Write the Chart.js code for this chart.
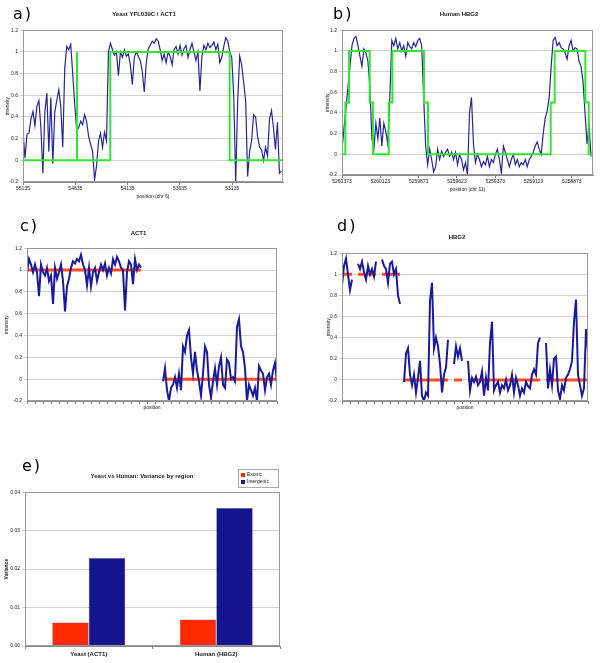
<!DOCTYPE html>
<html>
<head>
<meta charset="utf-8">
<script src="https://cdn.jsdelivr.net/npm/chart.js@4.4.1/dist/chart.umd.min.js"></script>
<style>
  body { margin: 0; background: #fff; }
  #wrap { position: relative; width: 600px; height: 663px; }
  canvas { position: absolute; }
  .tag { position: absolute; font: 16px/16px "DejaVu Sans", sans-serif; letter-spacing: 2px; color: #000; }
</style>
</head>
<body>
<div id="wrap">
  <canvas id="chartA" width="300" height="205" style="left:0;top:0"></canvas>
  <canvas id="chartB" width="300" height="205" style="left:300px;top:0"></canvas>
  <canvas id="chartC" width="300" height="200" style="left:0;top:215px"></canvas>
  <canvas id="chartD" width="300" height="200" style="left:300px;top:215px"></canvas>
  <canvas id="chartE" width="300" height="208" style="left:0;top:455px"></canvas>
  <div class="tag" style="left:13px;top:6px">a)</div>
  <div class="tag" style="left:333px;top:6px">b)</div>
  <div class="tag" style="left:20px;top:218px">c)</div>
  <div class="tag" style="left:337px;top:218px">d)</div>
  <div class="tag" style="left:22px;top:458px">e)</div>
</div>
<script>
// a) yeast tiling signal, probes read every ~19 bp going down from 55135
const aStart = 55135;
const aStep = -19;
const aTicks = [55135, 54635, 54135, 53635, 53135];
const aIntensity = [
  0.26, 0.02, 0.24, 0.25, 0.38, 0.45, 0.32, 0.50, 0.55, 0.30,
  -0.12, 0.45, 0.62, 0.08, 0.58, -0.03, 0.45, 0.55, 0.65, 0.50,
  0.12, 0.85, 1.05, 1.02, 1.07, 0.80, 0.52, 0.28, 0.30, 0.36,
  0.33, 0.42, 0.36, 0.22, 0.15, 0.08, -0.18, -0.05, 0.18, 0.25,
  0.12, 0.26, 0.18, 1.00, 1.08, 1.02, 0.97, 1.00, 0.78, 1.00,
  0.95, 1.02, 0.96, 0.98, 0.88, 0.70, 0.95, 1.00, 0.96, 0.92,
  0.82, 0.63, 0.90, 1.03, 1.06, 1.10, 1.08, 1.12, 1.10, 1.02,
  0.92, 0.98, 0.90, 1.00, 0.96, 0.88, 1.02, 1.05, 0.98, 1.06,
  0.97, 1.03, 1.06, 0.95, 1.02, 1.08, 1.00, 0.92, 1.00, 0.64,
  0.96, 1.06, 1.02, 1.08, 1.04, 1.06, 1.09, 1.02, 1.07, 0.90,
  0.95, 1.05, 1.13, 1.10, 1.00, 0.95, 0.60, -0.20, 0.55, 0.96,
  0.88, 0.72, 0.55, -0.15, 0.08, 0.18, 0.42, 0.40, 0.22, 0.12,
  0.10, 0.00, 0.12, 0.04, 0.38, 0.46, 0.30, 0.10, 0.35, -0.12,
  -0.10
];
const aModelX = [55135, 54619, 54619, 54619, 54301, 54301, 53160, 53160, 52650];
const aModelY = [0, 0, 1, 0, 0, 1, 1, 0, 0];

// b) human HBG2, probes every ~13 bp going down from 5260373
const bStart = 5260373;
const bStep = -13;
const bTicks = [5260373, 5260123, 5259873, 5259623, 5259373, 5259123, 5258873];
const bIntensity = [
  0.05, 0.25, 0.45, 0.65, 0.85, 1.05, 1.12, 1.14, 1.05, 0.95,
  0.85, 1.02, 0.98, 0.90, 0.65, 0.15, 0.05, 0.30, 0.15, 0.35,
  0.08, 0.30, 0.22, 0.10, 0.55, 1.10, 1.05, 1.12, 1.02, 1.08,
  1.00, 1.05, 0.95, 1.08, 1.04, 1.02, 1.08, 1.04, 1.10, 1.12,
  1.05, 0.55, 0.08, -0.10, 0.05, -0.05, -0.17, -0.12, 0.05, -0.05,
  0.03, -0.02, 0.02, 0.05, -0.02, 0.02, -0.05, 0.02, -0.10, 0.00,
  -0.05, -0.15, -0.08, -0.20, 0.40, 0.55, 0.10, -0.08, 0.00, -0.05,
  -0.12, -0.07, -0.10, -0.02, -0.12, -0.05, -0.08, 0.00, 0.05, -0.05,
  -0.18, 0.08, 0.02, -0.05, -0.12, -0.05, 0.00, -0.10, -0.05, -0.12,
  -0.08, -0.10, -0.05, -0.12, -0.05, -0.02, 0.02, 0.08, 0.12, 0.05,
  0.00, 0.20, 0.35, 0.42, 0.55, 0.85, 1.10, 1.13, 1.05, 1.08,
  1.03, 1.02, 0.98, 0.92, 1.05, 1.10, 1.00, 1.03, 1.02, 0.90,
  0.85, 0.70, 0.40, 0.10, 0.30, -0.02
];
const bModelX = [5260373, 5260351, 5260351, 5260327, 5260327, 5260192, 5260192, 5260171, 5260171,
  5260068, 5260068, 5260044, 5260044, 5259838, 5259838, 5259812, 5259812, 5259011, 5259011,
  5258985, 5258985, 5258785, 5258785, 5258763, 5258763, 5258735];
const bModelY = [0, 0, 0.5, 0.5, 1, 1, 0.5, 0.5, 0, 0, 0.5, 0.5, 1, 1, 0.5, 0.5, 0, 0, 0.5, 0.5, 1, 1, 0.5, 0.5, 0, 0];

// c) ACT1 exon then intergenic, by probe index
const cIntensity = [
  0.98, 1.10, 1.05, 0.98, 1.05, 0.98, 0.76, 1.05, 0.98, 0.95,
  1.02, 0.90, 0.95, 0.69, 1.02, 0.92, 0.98, 1.05, 0.90, 0.62,
  0.85, 0.92, 1.02, 1.08, 1.06, 1.10, 1.08, 1.14, 1.05, 1.00,
  0.86, 1.02, 0.85, 0.98, 1.02, 0.90, 0.98, 1.05, 1.00, 1.06,
  0.95, 1.02, 0.97, 1.10, 1.05, 1.12, 1.08, 1.02, 1.00, 0.63,
  0.98, 1.08, 1.05, 0.87, 1.10, 1.00, 1.05, 1.02,
  null, null, null, null, null, null, null, null, null, null,
  -0.02, 0.10, -0.10, -0.20, -0.08, -0.05, 0.02, -0.08, 0.05, -0.10,
  0.30, 0.25, 0.40, 0.45, 0.20, 0.05, 0.25, 0.08, -0.02, -0.15,
  0.05, 0.30, 0.25, -0.05, -0.17, -0.02, 0.10, -0.05, 0.12, 0.20,
  -0.05, -0.08, 0.18, 0.15, 0.00, 0.02, -0.02, 0.48, 0.55, 0.30,
  0.25, 0.10, -0.20, -0.05, -0.10, -0.15, -0.08, -0.20, 0.12, 0.08,
  0.05, -0.10, 0.02, 0.05, -0.05, 0.08, 0.15, -0.03
];
const cExpectedX = [0, 57, 58, 68, 125];
const cExpectedY = [1, 1, null, 0, 0];

// d) HBG2 exons then intergenic, by probe index
const dIntensity = [
  0.90, 1.08, 1.15, 1.00, 0.85, 0.95, null, null,
  1.10, 1.05, 1.12, 1.02, 0.95, 1.08, 1.00, 1.05, 0.98, 1.12, null, null,
  1.14, 1.08, 1.05, 0.92, 1.10, 1.12, 1.00, 1.05, 0.80, 0.72, null,
  -0.02, 0.25, 0.30, 0.05, -0.05, 0.05, -0.12, 0.02, 0.18, -0.15,
  -0.20, -0.12, -0.15, 0.75, 0.92, 0.30, 0.40, 0.32, 0.15, -0.12,
  0.05, 0.12, 0.38, null, null,
  0.15, 0.32, 0.22, 0.30, 0.18, null, null,
  0.18, -0.10, 0.02, -0.02, 0.03, -0.05, -0.02, 0.08, -0.15, 0.02,
  -0.10, 0.35, 0.55, -0.10, -0.05, -0.02, -0.12, -0.05, -0.08, 0.00,
  -0.10, -0.05, 0.05, -0.12, 0.02, -0.05, -0.15, -0.08, -0.12, -0.02,
  -0.06, -0.08, 0.05, 0.10, 0.05, 0.35, 0.40, null, null,
  0.35, -0.08, 0.10, -0.05, 0.20, 0.22, -0.10, -0.18, -0.05, -0.10,
  0.02, 0.05, 0.10, 0.18, 0.55, 0.76, 0.05, -0.05, -0.15, -0.08,
  0.48, 0.28
];
const dExpectedX = [0, 5, 6, 8, 17, 18, 20, 29, 30, 31, 53, 54, 56, 60, 61, 63, 99, 100, 102, 123];
const dExpectedY = [1, 1, null, 1, 1, null, 1, 1, null, 0, 0, null, 0, 0, null, 0, 0, null, 0, 0];

// e) variance by region
const eCategories = ['Yeast (ACT1)', 'Human (HBG2)'];
const eExonic = [0.0061, 0.0069];
const eIntergenic = [0.0229, 0.0359];

Chart.defaults.font.family = '"Liberation Sans", Arial, sans-serif';
Chart.defaults.color = '#222';
Chart.defaults.animation = false;
Chart.defaults.events = [];

const frame = {
  id: 'frame',
  afterDatasetsDraw(chart) {
    const a = chart.chartArea;
    const ctx = chart.ctx;
    ctx.save();
    ctx.strokeStyle = '#999';
    ctx.lineWidth = 1;
    ctx.strokeRect(Math.round(a.left) + 0.5, Math.round(a.top) + 0.5,
      Math.round(a.right - a.left) - 1, Math.round(a.bottom - a.top) - 1);
    ctx.restore();
  }
};

function pairs(xs, ys) {
  return xs.map((x, i) => ({ x: x, y: ys[i] }));
}
function probes(start, step, ys) {
  return ys.map((y, i) => ({ x: start + step * i, y: y }));
}

function yAxis(width, pad) {
  return {
    min: -0.2, max: 1.2,
    ticks: { stepSize: 0.2, font: { size: 5 }, padding: 2, callback: v => String(Math.round(v * 10) / 10 || 0) },
    grid: { color: '#d2d2d2', tickLength: 3 },
    border: { color: '#888' },
    title: { display: true, text: 'intensity', font: { size: 5 }, padding: { top: pad, bottom: 0 } },
    afterFit: s => { s.width = width; }
  };
}

function xGenome(min, max, ticks, label, height, pad) {
  return {
    type: 'linear', reverse: true, min: min, max: max,
    afterBuildTicks: s => { s.ticks = ticks.map(v => ({ value: v })); },
    ticks: { font: { size: 5 }, padding: 1, autoSkip: false, maxRotation: 0, callback: v => String(v) },
    grid: { drawOnChartArea: false, tickLength: 3, color: '#888' },
    border: { color: '#888' },
    title: { display: true, text: label, font: { size: 5 }, padding: { top: 0, bottom: pad } },
    afterFit: s => { s.height = height; }
  };
}

function xIndex(max, height) {
  return {
    type: 'linear', min: 0, max: max,
    ticks: { stepSize: 4, autoSkip: false, callback: () => '' },
    grid: { drawOnChartArea: false, tickLength: 3, color: '#888' },
    border: { color: '#888' },
    title: { display: true, text: 'position', font: { size: 5 }, padding: { top: 0, bottom: 4 } },
    afterFit: s => { s.height = height; }
  };
}

function titleOpts(text, top, bottom) {
  return { display: true, text: text, font: { size: 6, weight: 'bold' }, padding: { top: top, bottom: bottom } };
}

const lineDefaults = { pointRadius: 0, tension: 0, fill: false, spanGaps: false };

new Chart(document.getElementById('chartA'), {
  type: 'line',
  data: {
    datasets: [
      Object.assign({ label: 'model', data: pairs(aModelX, aModelY), borderColor: '#2fe82f', borderWidth: 2 }, lineDefaults),
      Object.assign({ label: 'signal', data: probes(aStart, aStep, aIntensity), borderColor: '#25259c', borderWidth: 1.2 }, lineDefaults)
    ]
  },
  options: {
    responsive: false,
    layout: { padding: { left: 5, right: 17 } },
    plugins: { legend: { display: false }, tooltip: { enabled: false }, title: titleOpts('Yeast YFL039C / ACT1', 11, 12) },
    scales: {
      x: xGenome(52650, 55135, aTicks, 'position (chr 6)', 23, 5),
      y: yAxis(18, 0)
    }
  },
  plugins: [frame]
});

new Chart(document.getElementById('chartB'), {
  type: 'line',
  data: {
    datasets: [
      Object.assign({ label: 'model', data: pairs(bModelX, bModelY), borderColor: '#2fe82f', borderWidth: 2 }, lineDefaults),
      Object.assign({ label: 'signal', data: probes(bStart, bStep, bIntensity), borderColor: '#25259c', borderWidth: 1.2 }, lineDefaults)
    ]
  },
  options: {
    responsive: false,
    layout: { padding: { left: 25, right: 7 } },
    plugins: { legend: { display: false }, tooltip: { enabled: false }, title: titleOpts('Human HBG2', 11, 12) },
    scales: {
      x: xGenome(5258735, 5260373, bTicks, 'position (chr 11)', 30, 12),
      y: yAxis(17, 0)
    }
  },
  plugins: [frame]
});

new Chart(document.getElementById('chartC'), {
  type: 'line',
  data: {
    datasets: [
      Object.assign({ label: 'signal', data: cIntensity.map((v, i) => ({ x: i, y: v })), borderColor: '#1a1a9c', borderWidth: 2 }, lineDefaults),
      Object.assign({ label: 'expected', data: pairs(cExpectedX, cExpectedY), borderColor: '#ff4a22', borderWidth: 3 }, lineDefaults)
    ]
  },
  options: {
    responsive: false,
    layout: { padding: { left: 0, right: 23 } },
    plugins: { legend: { display: false }, tooltip: { enabled: false }, title: titleOpts('ACT1', 15, 11) },
    scales: { x: xIndex(125, 14), y: yAxis(27, 4) }
  },
  plugins: [frame]
});

new Chart(document.getElementById('chartD'), {
  type: 'line',
  data: {
    datasets: [
      Object.assign({ label: 'signal', data: dIntensity.map((v, i) => ({ x: i, y: v })), borderColor: '#1a1a9c', borderWidth: 2 }, lineDefaults),
      Object.assign({ label: 'expected', data: pairs(dExpectedX, dExpectedY), borderColor: '#ff4a22', borderWidth: 3 }, lineDefaults)
    ]
  },
  options: {
    responsive: false,
    layout: { padding: { left: 26, right: 12 } },
    plugins: { legend: { display: false }, tooltip: { enabled: false }, title: titleOpts('HBG2', 19, 12) },
    scales: { x: xIndex(123, 14), y: yAxis(16, 0) }
  },
  plugins: [frame]
});

const legendBox = {
  id: 'legendBox',
  afterDraw(chart) {
    const ctx = chart.ctx;
    const x = 238, y = 14, w = 40, h = 18;
    ctx.save();
    ctx.fillStyle = '#fff';
    ctx.fillRect(x, y, w, h);
    ctx.strokeStyle = '#aaa';
    ctx.lineWidth = 1;
    ctx.strokeRect(x + 0.5, y + 0.5, w, h);
    ctx.font = '5px "Liberation Sans", Arial, sans-serif';
    ctx.textBaseline = 'middle';
    chart.data.datasets.forEach((ds, i) => {
      const cy = y + 6 + i * 7;
      ctx.fillStyle = ds.backgroundColor;
      ctx.fillRect(x + 3, cy - 2, 4, 4);
      ctx.fillStyle = '#222';
      ctx.fillText(ds.label, x + 9, cy);
    });
    ctx.restore();
  }
};

new Chart(document.getElementById('chartE'), {
  type: 'bar',
  data: {
    labels: eCategories,
    datasets: [
      { label: 'Exonic', data: eExonic, backgroundColor: '#ff2a00', borderColor: '#777', borderWidth: 0.5, categoryPercentage: 0.573, barPercentage: 1 },
      { label: 'Intergenic', data: eIntergenic, backgroundColor: '#14148f', borderColor: '#777', borderWidth: 0.5, categoryPercentage: 0.573, barPercentage: 1 }
    ]
  },
  options: {
    responsive: false,
    layout: { padding: { left: 4, right: 20 } },
    plugins: { legend: { display: false }, tooltip: { enabled: false }, title: titleOpts('Yeast vs Human: Variance by region', 18, 12) },
    scales: {
      x: {
        ticks: { font: { size: 6, weight: 'bold' }, padding: 2 },
        grid: { drawOnChartArea: false, tickLength: 3, color: '#888' },
        border: { color: '#888' },
        afterFit: s => { s.height = 17; }
      },
      y: {
        min: 0, max: 0.04,
        ticks: { stepSize: 0.01, font: { size: 5 }, padding: 2, callback: v => v.toFixed(2) },
        grid: { color: '#d2d2d2', tickLength: 3 },
        border: { color: '#888' },
        title: { display: true, text: 'Variance', font: { size: 5, weight: 'bold' }, padding: { top: 0, bottom: 0 } },
        afterFit: s => { s.width = 21; }
      }
    }
  },
  plugins: [frame, legendBox]
});
</script>
</body>
</html>
